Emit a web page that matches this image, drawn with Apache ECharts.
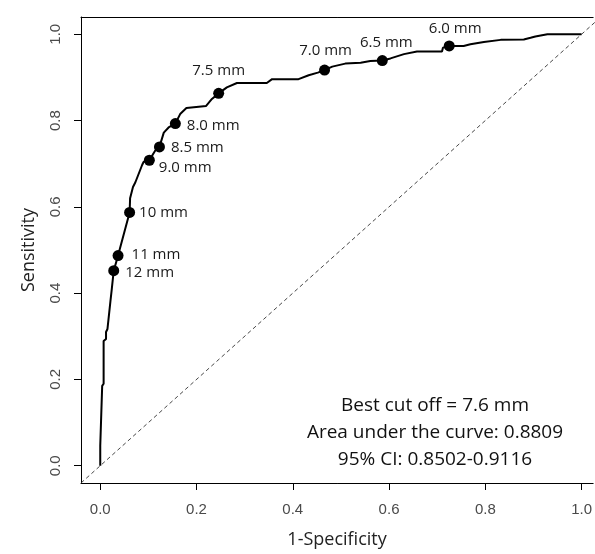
<!DOCTYPE html>
<html>
<head>
<meta charset="utf-8">
<script src="https://cdn.jsdelivr.net/npm/echarts@6/dist/echarts.min.js"></script>
<style>
  html, body { margin: 0; padding: 0; background: #fff; }
  #chart { width: 595px; height: 554px; }
</style>
</head>
<body>
<div id="chart"></div>
<script>
// ROC curve: [1-specificity, sensitivity]
const rocCurve = [
  [0, 0], [0, 0.046], [0.004, 0.046], [0.004, 0.185], [0.007, 0.19],
  [0.007, 0.289], [0.012, 0.294], [0.012, 0.31], [0.015, 0.317],
  [0.021, 0.38], [0.024, 0.41], [0.028, 0.452], [0.037, 0.487],
  [0.061, 0.587], [0.062, 0.62], [0.068, 0.646], [0.073, 0.657],
  [0.087, 0.697], [0.09, 0.704], [0.102, 0.708], [0.114, 0.73],
  [0.123, 0.739], [0.132, 0.772], [0.142, 0.784], [0.156, 0.793],
  [0.166, 0.815], [0.179, 0.829], [0.22, 0.834], [0.232, 0.85],
  [0.246, 0.863], [0.263, 0.877], [0.284, 0.887], [0.346, 0.887],
  [0.357, 0.896], [0.412, 0.896], [0.433, 0.905], [0.452, 0.911],
  [0.466, 0.917], [0.482, 0.925], [0.509, 0.932], [0.541, 0.934],
  [0.561, 0.938], [0.586, 0.939], [0.603, 0.944], [0.631, 0.954],
  [0.658, 0.96], [0.71, 0.96], [0.712, 0.969], [0.725, 0.973],
  [0.755, 0.973], [0.769, 0.977], [0.797, 0.982], [0.832, 0.987],
  [0.88, 0.988], [0.894, 0.992], [0.904, 0.995], [0.929, 1.0], [1.0, 1.0]
];

// cut-off points on the curve
const cutLabels = ['12 mm', '11 mm', '10 mm', '9.0 mm', '8.5 mm', '8.0 mm', '7.5 mm', '7.0 mm', '6.5 mm', '6.0 mm'];
const cutFpr = [0.028, 0.037, 0.061, 0.102, 0.123, 0.156, 0.246, 0.466, 0.586, 0.725];
const cutSens = [0.452, 0.487, 0.587, 0.708, 0.739, 0.793, 0.863, 0.917, 0.939, 0.973];

const tickValues = [0, 0.2, 0.4, 0.6, 0.8, 1.0];
const chanceLine = [[-0.04, -0.04], [1.04, 1.04]];

const notes = ['Best cut off = 7.6 mm', 'Area under the curve: 0.8809', '95% CI: 0.8502-0.9116'];

// where each cut-off label sits relative to its dot
const labelPlace = {
  '12 mm': ['right', [1, 2]],
  '11 mm': ['right', [3, -1]],
  '10 mm': ['right', [-1, 0]],
  '9.0 mm': ['right', [-1, 7]],
  '8.5 mm': ['right', [1, 1]],
  '8.0 mm': ['right', [1, 2]],
  '7.5 mm': ['top', [0, -5]],
  '7.0 mm': ['top', [1, -1]],
  '6.5 mm': ['top', [4, 0]],
  '6.0 mm': ['top', [6, 1]]
};

const tickFont = { fontFamily: 'Liberation Sans, Arial, sans-serif', fontSize: 15, color: '#4a4a4a' };
const textFont = 'Open Sans, Noto Sans, sans-serif';

const chart = echarts.init(document.getElementById('chart'), null, { renderer: 'canvas' });

const points = cutLabels.map((name, i) => ({
  value: [cutFpr[i], cutSens[i]],
  name: name,
  label: {
    show: true,
    formatter: name,
    position: labelPlace[name][0],
    offset: labelPlace[name][1]
  }
}));

const axisMax = 1.024;

chart.setOption({
  animation: false,
  backgroundColor: '#fff',
  grid: { left: 81, top: 17, width: 514, height: 467.5, show: false },
  xAxis: [{
    type: 'value', min: -0.04, max: axisMax,
    name: '1-Specificity', nameLocation: 'middle', nameGap: 48,
    nameTextStyle: { fontFamily: textFont, fontSize: 18, color: '#222' },
    splitLine: { show: false },
    axisLine: { show: true, onZero: false, lineStyle: { color: '#000', width: 1 } },
    axisTick: { show: true, customValues: tickValues, length: 7, lineStyle: { color: '#000' } },
    axisLabel: Object.assign({ customValues: tickValues, margin: 19, formatter: v => v.toFixed(1) }, tickFont)
  }, {
    type: 'value', min: -0.04, max: axisMax, position: 'top',
    splitLine: { show: false }, axisTick: { show: false }, axisLabel: { show: false },
    axisLine: { show: true, onZero: false, lineStyle: { color: '#000', width: 1 } }
  }],
  yAxis: {
    type: 'value', min: -0.04, max: 1.04,
    name: 'Sensitivity', nameLocation: 'middle', nameGap: 43,
    nameTextStyle: { fontFamily: textFont, fontSize: 18, color: '#222' },
    splitLine: { show: false },
    axisLine: { show: true, onZero: false, lineStyle: { color: '#000', width: 1 } },
    axisTick: { show: true, customValues: tickValues, length: 7, lineStyle: { color: '#000' } },
    axisLabel: Object.assign({ customValues: tickValues, margin: 18, rotate: 90, formatter: v => v.toFixed(1) }, tickFont)
  },
  series: [
    {
      type: 'line', data: chanceLine, symbol: 'none', silent: true,
      lineStyle: { color: '#333', width: 0.9, type: [4, 3] }
    },
    {
      type: 'line', data: rocCurve, symbol: 'none',
      lineStyle: { color: '#000', width: 2 }
    },
    {
      type: 'scatter', data: points, symbol: 'circle', symbolSize: 11,
      itemStyle: { color: '#000', opacity: 1 },
      label: { fontFamily: textFont, fontSize: 15, color: '#1a1a1a', distance: 5 }
    }
  ],
  graphic: notes.map((t, i) => ({
    type: 'text', x: 435, y: 406 + i * 27,
    style: {
      text: t, fontFamily: textFont, fontSize: 19, fill: '#111',
      textAlign: 'center', textVerticalAlign: 'middle'
    }
  }))
});
</script>
</body>
</html>
